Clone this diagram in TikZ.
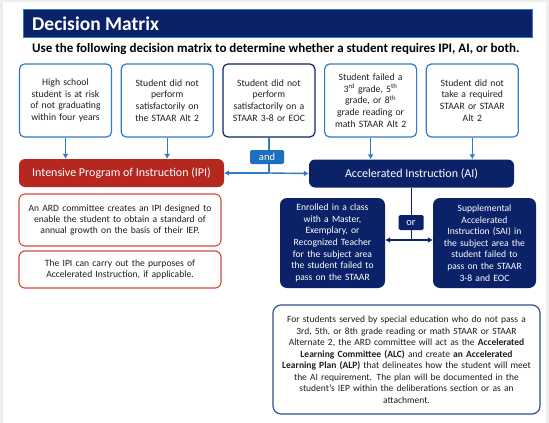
\documentclass[tikz,border=0pt]{standalone}
\usepackage{fontspec}
\setmainfont{Carlito}
\usepackage{xcolor}
\usepackage{tikz}
\usetikzlibrary{positioning,arrows.meta}

\definecolor{navy}{HTML}{0C2268}
\definecolor{skyline}{HTML}{2C7CC6}
\definecolor{andblue}{HTML}{1D6FC0}
\definecolor{ipired}{HTML}{B5271F}
\definecolor{notered}{HTML}{D2473A}
\definecolor{alpblue}{HTML}{30508F}
\definecolor{inkgray}{HTML}{1E1E1E}
\definecolor{pagegray}{HTML}{EEEEEE}

\begin{document}
\begin{tikzpicture}[x=1pt,y=-1pt,
    cond/.style={rectangle,draw=skyline,line width=1.2pt,rounded corners=5pt,fill=white,minimum width=92pt,minimum height=73pt,text width=88pt,align=center,text=inkgray,inner sep=0pt,font=\fontsize{9.7}{11.7}\selectfont},
    bar/.style={rectangle,rounded corners=6pt,minimum width=205pt,minimum height=28pt,text=white,font=\fontsize{12}{13}\selectfont},
    note/.style={rectangle,draw=notered,line width=1.1pt,rounded corners=6pt,fill=white,minimum width=202pt,text width=198pt,align=center,text=inkgray,inner sep=0pt,font=\fontsize{9.6}{11.2}\selectfont},
    option/.style={rectangle,fill=navy,rounded corners=7pt,minimum height=90pt,text width=100pt,align=center,text=white,inner sep=0pt,font=\fontsize{9.6}{11.6}\selectfont},
    tag/.style={rectangle,rounded corners=1.5pt,text=white,inner sep=0pt,font=\fontsize{10.5}{12}\selectfont},
    arrow/.style={-{Latex[length=5pt,width=6pt]},line width=1.4pt},
    twoway/.style={{Latex[length=5pt,width=6pt]}-{Latex[length=5pt,width=6pt]},line width=1.4pt}
  ]

  % page
  \useasboundingbox (0,0) rectangle (549,423);
  \fill[pagegray] (0,0) rectangle (549,423);
  \fill[white] (3,2) rectangle (546,423);

  % heading
  \node[rectangle,fill=navy,draw=skyline,line width=0.8pt,minimum width=509pt,minimum height=28pt] (head) at (277.5,23) {};
  \node[anchor=west,text=white,font=\bfseries\fontsize{19.5}{21}\selectfont,inner sep=0pt] (title) at (32,23.5) {Decision Matrix};
  \node[anchor=west,text=black,font=\bfseries\fontsize{13}{14}\selectfont,inner sep=0pt] (lead) at (32,49) {Use the following decision matrix to determine whether a student requires IPI, AI, or both.};

  % conditions
  \node[cond] (risk) at (65.5,100.5) {High school\\student is at risk\\of not graduating\\within four years};
  \node[cond,right=8.5pt of risk] (alttwo) {Student did not\\perform\\satisfactorily on\\the STAAR Alt 2};
  \node[cond,right=8.5pt of alttwo,draw=navy] (eoc) {Student did not\\perform\\satisfactorily on a\\STAAR 3-8 or EOC};
  \node[cond,right=8.5pt of eoc] (grade) {Student failed a\\3\textsuperscript{rd} grade, 5\textsuperscript{th}\\grade, or 8\textsuperscript{th}\\grade reading or\\math STAAR Alt 2};
  \node[cond,right=8.5pt of grade] (missed) {Student did not\\take a required\\STAAR or STAAR\\Alt 2};

  % programs
  \node[bar,fill=ipired] (ipi) at (121.5,173) {Intensive Program of Instruction (IPI)};
  \node[bar,fill=navy] (ai) at (411.5,173.5) {Accelerated Instruction (AI)};

  \draw[arrow,color=skyline] (risk.south) -- (risk.south |- ipi.north);
  \draw[arrow,color=skyline] (alttwo.south) -- (alttwo.south |- ipi.north);
  \draw[arrow,color=skyline] (grade.south) -- (grade.south |- ai.north);
  \draw[arrow,color=skyline] (missed.south) -- (missed.south |- ai.north);

  \coordinate (both) at (eoc.south |- ipi.east);
  \draw[line width=1.4pt,color=skyline] (eoc.south) -- (both);
  \draw[arrow,color=skyline] (both) -- (ipi.east);
  \draw[arrow,color=skyline] (both) -- (ai.west);
  \node[tag,fill=andblue,minimum width=34pt,minimum height=14pt] (and) at (267,157) {and};

  % IPI notes
  \node[note,minimum height=52pt] (ard) at (120,220) {An ARD committee creates an IPI designed to\\enable the student to obtain a standard of\\annual growth on the basis of their IEP.};
  \node[note,minimum height=37pt] (purpose) at (120,269.5) {The IPI can carry out the purposes of\\Accelerated Instruction, if applicable.};

  % AI options
  \node[option,minimum width=105pt] (teacher) at (332.5,243) {Enrolled in a class\\with a Master,\\Exemplary, or\\Recognized Teacher\\for the subject area\\the student failed to\\pass on the STAAR};
  \node[option,minimum width=103pt] (sai) at (484.5,243) {Supplemental\\Accelerated\\Instruction (SAI) in\\the subject area the\\student failed to\\pass on the STAAR\\3-8 and EOC};

  \coordinate (split) at (ai.south |- 0,240);
  \draw[line width=1.4pt,color=navy] (ai.south) -- (split);
  \draw[twoway,color=navy] (teacher.east |- split) -- (sai.west |- split);
  \node[tag,fill=navy,minimum width=25pt,minimum height=15pt] (or) at (411,222.5) {or};

  % ALC note
  \node[rectangle,draw=alpblue,line width=1.2pt,rounded corners=8pt,fill=white,minimum width=267pt,minimum height=109pt,text width=262pt,align=center,text=inkgray,inner sep=0pt,font=\fontsize{9.5}{11.5}\selectfont] (alc) at (406.5,359.5)
    {For students served by special education who do not pass a\\
     3rd, 5th, or 8th grade reading or math STAAR or STAAR\\
     Alternate 2, the ARD committee will act as the \textbf{Accelerated}\\
     \textbf{Learning Committee (ALC)} and create \textbf{an Accelerated}\\
     \textbf{Learning Plan (ALP)} that delineates how the student will meet\\
     the AI requirement. The plan will be documented in the\\
     student's IEP within the deliberations section or as an\\
     attachment.};

\end{tikzpicture}
\end{document}
